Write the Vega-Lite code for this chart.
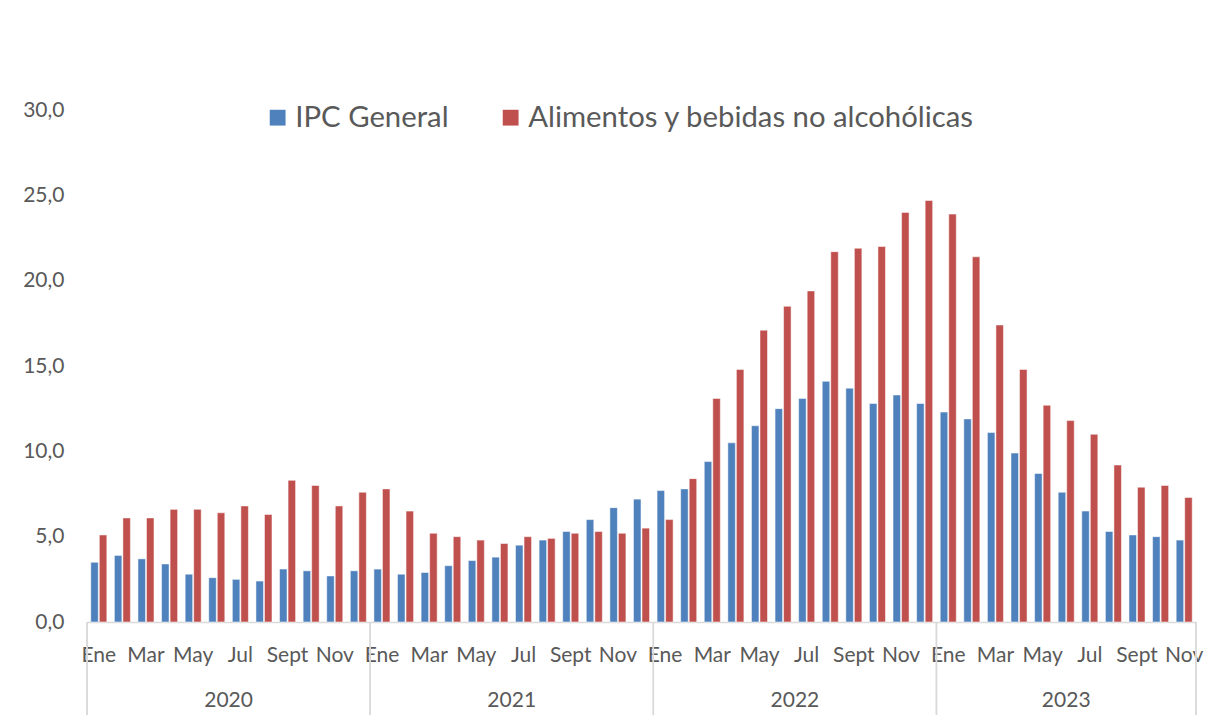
{
  "$schema": "https://vega.github.io/schema/vega-lite/v6.json",
  "padding": {"left": 22, "top": 99, "right": 10, "bottom": 5},
  "background": "white",
  "config": {"view": {"stroke": null}, "font": "Lato"},
  "width": 1109,
  "height": 512,
  "data": {"values": [
    {"periodo": "2020-01", "anio": 2020, "mes": 1, "IPC General": 3.5, "Alimentos y bebidas no alcohólicas": 5.1},
    {"periodo": "2020-02", "anio": 2020, "mes": 2, "IPC General": 3.9, "Alimentos y bebidas no alcohólicas": 6.1},
    {"periodo": "2020-03", "anio": 2020, "mes": 3, "IPC General": 3.7, "Alimentos y bebidas no alcohólicas": 6.1},
    {"periodo": "2020-04", "anio": 2020, "mes": 4, "IPC General": 3.4, "Alimentos y bebidas no alcohólicas": 6.6},
    {"periodo": "2020-05", "anio": 2020, "mes": 5, "IPC General": 2.8, "Alimentos y bebidas no alcohólicas": 6.6},
    {"periodo": "2020-06", "anio": 2020, "mes": 6, "IPC General": 2.6, "Alimentos y bebidas no alcohólicas": 6.4},
    {"periodo": "2020-07", "anio": 2020, "mes": 7, "IPC General": 2.5, "Alimentos y bebidas no alcohólicas": 6.8},
    {"periodo": "2020-08", "anio": 2020, "mes": 8, "IPC General": 2.4, "Alimentos y bebidas no alcohólicas": 6.3},
    {"periodo": "2020-09", "anio": 2020, "mes": 9, "IPC General": 3.1, "Alimentos y bebidas no alcohólicas": 8.3},
    {"periodo": "2020-10", "anio": 2020, "mes": 10, "IPC General": 3.0, "Alimentos y bebidas no alcohólicas": 8.0},
    {"periodo": "2020-11", "anio": 2020, "mes": 11, "IPC General": 2.7, "Alimentos y bebidas no alcohólicas": 6.8},
    {"periodo": "2020-12", "anio": 2020, "mes": 12, "IPC General": 3.0, "Alimentos y bebidas no alcohólicas": 7.6},
    {"periodo": "2021-01", "anio": 2021, "mes": 1, "IPC General": 3.1, "Alimentos y bebidas no alcohólicas": 7.8},
    {"periodo": "2021-02", "anio": 2021, "mes": 2, "IPC General": 2.8, "Alimentos y bebidas no alcohólicas": 6.5},
    {"periodo": "2021-03", "anio": 2021, "mes": 3, "IPC General": 2.9, "Alimentos y bebidas no alcohólicas": 5.2},
    {"periodo": "2021-04", "anio": 2021, "mes": 4, "IPC General": 3.3, "Alimentos y bebidas no alcohólicas": 5.0},
    {"periodo": "2021-05", "anio": 2021, "mes": 5, "IPC General": 3.6, "Alimentos y bebidas no alcohólicas": 4.8},
    {"periodo": "2021-06", "anio": 2021, "mes": 6, "IPC General": 3.8, "Alimentos y bebidas no alcohólicas": 4.6},
    {"periodo": "2021-07", "anio": 2021, "mes": 7, "IPC General": 4.5, "Alimentos y bebidas no alcohólicas": 5.0},
    {"periodo": "2021-08", "anio": 2021, "mes": 8, "IPC General": 4.8, "Alimentos y bebidas no alcohólicas": 4.9},
    {"periodo": "2021-09", "anio": 2021, "mes": 9, "IPC General": 5.3, "Alimentos y bebidas no alcohólicas": 5.2},
    {"periodo": "2021-10", "anio": 2021, "mes": 10, "IPC General": 6.0, "Alimentos y bebidas no alcohólicas": 5.3},
    {"periodo": "2021-11", "anio": 2021, "mes": 11, "IPC General": 6.7, "Alimentos y bebidas no alcohólicas": 5.2},
    {"periodo": "2021-12", "anio": 2021, "mes": 12, "IPC General": 7.2, "Alimentos y bebidas no alcohólicas": 5.5},
    {"periodo": "2022-01", "anio": 2022, "mes": 1, "IPC General": 7.7, "Alimentos y bebidas no alcohólicas": 6.0},
    {"periodo": "2022-02", "anio": 2022, "mes": 2, "IPC General": 7.8, "Alimentos y bebidas no alcohólicas": 8.4},
    {"periodo": "2022-03", "anio": 2022, "mes": 3, "IPC General": 9.4, "Alimentos y bebidas no alcohólicas": 13.1},
    {"periodo": "2022-04", "anio": 2022, "mes": 4, "IPC General": 10.5, "Alimentos y bebidas no alcohólicas": 14.8},
    {"periodo": "2022-05", "anio": 2022, "mes": 5, "IPC General": 11.5, "Alimentos y bebidas no alcohólicas": 17.1},
    {"periodo": "2022-06", "anio": 2022, "mes": 6, "IPC General": 12.5, "Alimentos y bebidas no alcohólicas": 18.5},
    {"periodo": "2022-07", "anio": 2022, "mes": 7, "IPC General": 13.1, "Alimentos y bebidas no alcohólicas": 19.4},
    {"periodo": "2022-08", "anio": 2022, "mes": 8, "IPC General": 14.1, "Alimentos y bebidas no alcohólicas": 21.7},
    {"periodo": "2022-09", "anio": 2022, "mes": 9, "IPC General": 13.7, "Alimentos y bebidas no alcohólicas": 21.9},
    {"periodo": "2022-10", "anio": 2022, "mes": 10, "IPC General": 12.8, "Alimentos y bebidas no alcohólicas": 22.0},
    {"periodo": "2022-11", "anio": 2022, "mes": 11, "IPC General": 13.3, "Alimentos y bebidas no alcohólicas": 24.0},
    {"periodo": "2022-12", "anio": 2022, "mes": 12, "IPC General": 12.8, "Alimentos y bebidas no alcohólicas": 24.7},
    {"periodo": "2023-01", "anio": 2023, "mes": 1, "IPC General": 12.3, "Alimentos y bebidas no alcohólicas": 23.9},
    {"periodo": "2023-02", "anio": 2023, "mes": 2, "IPC General": 11.9, "Alimentos y bebidas no alcohólicas": 21.4},
    {"periodo": "2023-03", "anio": 2023, "mes": 3, "IPC General": 11.1, "Alimentos y bebidas no alcohólicas": 17.4},
    {"periodo": "2023-04", "anio": 2023, "mes": 4, "IPC General": 9.9, "Alimentos y bebidas no alcohólicas": 14.8},
    {"periodo": "2023-05", "anio": 2023, "mes": 5, "IPC General": 8.7, "Alimentos y bebidas no alcohólicas": 12.7},
    {"periodo": "2023-06", "anio": 2023, "mes": 6, "IPC General": 7.6, "Alimentos y bebidas no alcohólicas": 11.8},
    {"periodo": "2023-07", "anio": 2023, "mes": 7, "IPC General": 6.5, "Alimentos y bebidas no alcohólicas": 11.0},
    {"periodo": "2023-08", "anio": 2023, "mes": 8, "IPC General": 5.3, "Alimentos y bebidas no alcohólicas": 9.2},
    {"periodo": "2023-09", "anio": 2023, "mes": 9, "IPC General": 5.1, "Alimentos y bebidas no alcohólicas": 7.9},
    {"periodo": "2023-10", "anio": 2023, "mes": 10, "IPC General": 5.0, "Alimentos y bebidas no alcohólicas": 8.0},
    {"periodo": "2023-11", "anio": 2023, "mes": 11, "IPC General": 4.8, "Alimentos y bebidas no alcohólicas": 7.3}
  ]},
  "transform": [{"fold": ["IPC General", "Alimentos y bebidas no alcohólicas"], "as": ["serie", "valor"]}],
  "layer": [
    {
      "mark": {"type": "bar", "stroke": "#ffffff", "strokeWidth": 1, "strokeOpacity": 0.5},
      "encoding": {
        "x": {"field": "periodo", "type": "ordinal", "scale": {"paddingInner": 0.32, "paddingOuter": 0.16},
          "axis": {"title": null, "labelAngle": 0, "labelExpr": "toNumber(substring(datum.value, 5, 7)) % 2 == 1 ? ['', 'Ene', 'Feb', 'Mar', 'Abr', 'May', 'Jun', 'Jul', 'Ago', 'Sept', 'Oct', 'Nov', 'Dic'][toNumber(substring(datum.value, 5, 7))] : ''", "ticks": false, "domainColor": "#d9d9d9", "domainWidth": 1.5, "labelFontSize": 21, "labelColor": "#595959", "labelPadding": 22, "labelOverlap": false}},
        "xOffset": {"field": "serie", "sort": ["IPC General", "Alimentos y bebidas no alcohólicas"], "scale": {"paddingInner": 0.12}},
        "y": {"field": "valor", "type": "quantitative", "scale": {"domain": [0, 30], "nice": false},
          "axis": {"values": [0, 5, 10, 15, 20, 25, 30], "labelExpr": "replace(format(datum.value, '.1f'), '.', ',')", "domain": false, "ticks": false, "grid": false, "title": null, "labelFontSize": 21, "labelColor": "#595959", "labelPadding": 23}},
        "color": {"field": "serie", "sort": ["IPC General", "Alimentos y bebidas no alcohólicas"],
          "scale": {"domain": ["IPC General", "Alimentos y bebidas no alcohólicas"], "range": ["#4F81BD", "#C0504D"]},
          "legend": {"orient": "none", "legendX": 176, "legendY": -7, "direction": "horizontal", "title": null, "symbolType": "square", "symbolSize": 250, "symbolStrokeWidth": 0, "labelFontSize": 29.3, "labelColor": "#595959", "columnPadding": 47, "labelOffset": 3, "labelLimit": 700}}
      }
    },
    {
      "transform": [{"filter": "datum.mes == 1"}],
      "mark": {"type": "rule", "color": "#d9d9d9", "strokeWidth": 1.5},
      "encoding": {
        "x": {"field": "periodo", "type": "ordinal", "bandPosition": -0.235},
        "y": {"datum": 0, "scale": {"domain": [0, 30], "nice": false}},
        "y2": {"datum": -5.45}
      }
    },
    {
      "transform": [{"filter": "datum.periodo == '2023-11'"}],
      "mark": {"type": "rule", "color": "#d9d9d9", "strokeWidth": 1.5},
      "encoding": {
        "x": {"field": "periodo", "type": "ordinal", "bandPosition": 1.235},
        "y": {"datum": 0, "scale": {"domain": [0, 30], "nice": false}},
        "y2": {"datum": -5.45}
      }
    },
    {
      "transform": [{"filter": "datum.mes == 7 && datum.anio < 2023 && datum.serie == 'IPC General'"}],
      "mark": {"type": "text", "fontSize": 21, "color": "#595959", "baseline": "middle", "align": "center"},
      "encoding": {
        "x": {"field": "periodo", "type": "ordinal", "bandPosition": -0.235},
        "y": {"datum": -4.6, "scale": {"domain": [0, 30], "nice": false}},
        "text": {"field": "anio", "type": "nominal"}
      }
    },
    {
      "transform": [{"filter": "datum.periodo == '2023-06' && datum.serie == 'IPC General'"}],
      "mark": {"type": "text", "fontSize": 21, "color": "#595959", "baseline": "middle", "align": "center"},
      "encoding": {
        "x": {"field": "periodo", "type": "ordinal", "bandPosition": 0.5},
        "y": {"datum": -4.6, "scale": {"domain": [0, 30], "nice": false}},
        "text": {"field": "anio", "type": "nominal"}
      }
    }
  ]
}
